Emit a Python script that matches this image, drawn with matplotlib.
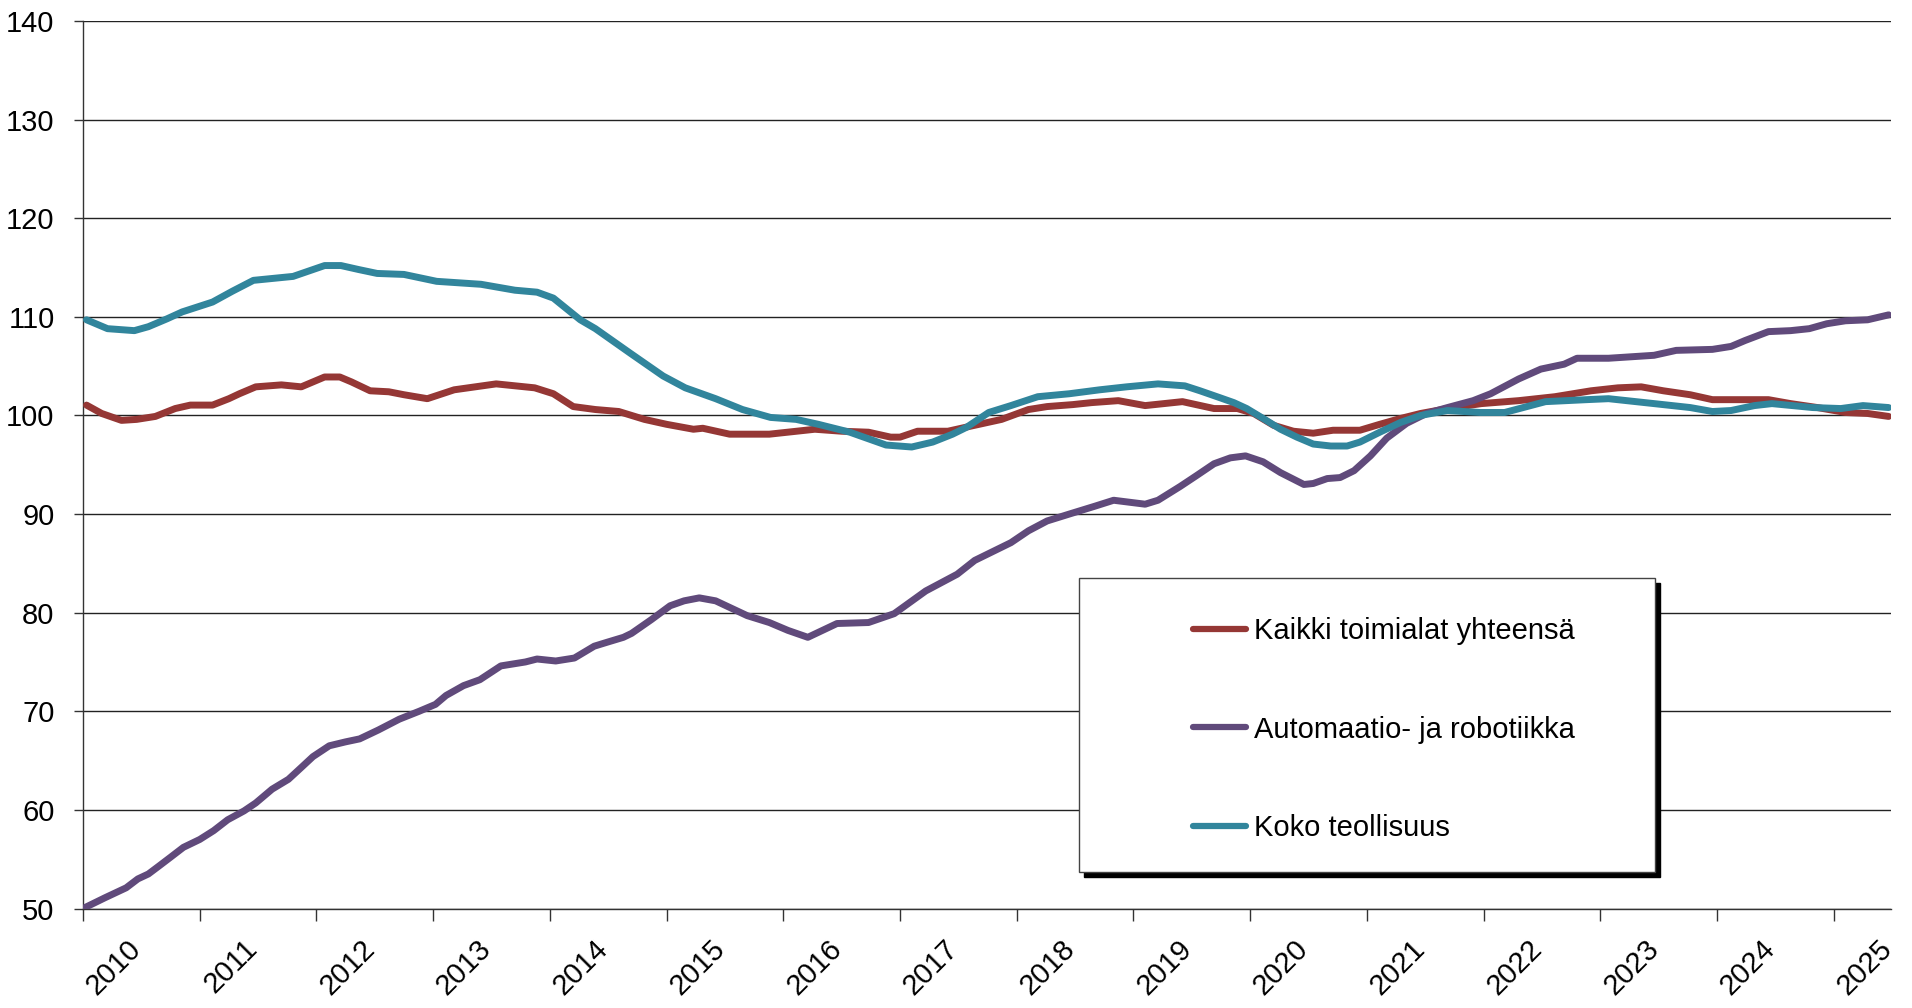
import matplotlib
matplotlib.use("Agg")
import matplotlib.pyplot as plt
from matplotlib.patches import Rectangle
from matplotlib.transforms import ScaledTranslation

FONT = ['Liberation Sans Narrow', 'Liberation Sans', 'DejaVu Sans']
plt.rcParams['font.family'] = FONT

# ---- data (decimal year, index value) ----
red_t = [2010.03, 2010.16, 2010.33, 2010.46, 2010.62, 2010.79, 2010.92, 2011.11, 2011.25, 2011.34,
         2011.48, 2011.70, 2011.87, 2012.07, 2012.20, 2012.30, 2012.46, 2012.62, 2012.75, 2012.95,
         2013.18, 2013.54, 2013.87, 2014.03, 2014.20, 2014.39, 2014.59, 2014.81, 2015.00, 2015.23,
         2015.31, 2015.54, 2015.88, 2016.27, 2016.50, 2016.73, 2016.92, 2017.00, 2017.15, 2017.41,
         2017.60, 2017.87, 2018.10, 2018.26, 2018.48, 2018.64, 2018.87, 2019.10, 2019.42, 2019.69,
         2019.89, 2020.03, 2020.20, 2020.37, 2020.54, 2020.71, 2020.94, 2021.11, 2021.29, 2021.46,
         2021.69, 2021.98, 2022.30, 2022.61, 2022.92, 2023.15, 2023.35, 2023.54, 2023.77, 2023.96,
         2024.44, 2024.63, 2024.86, 2025.10, 2025.29, 2025.47]
red_v = [101.05, 100.2, 99.5, 99.6, 99.9, 100.7, 101.05, 101.05, 101.7, 102.2,
         102.9, 103.1, 102.9, 103.9, 103.9, 103.4, 102.5, 102.4, 102.1, 101.7,
         102.6, 103.2, 102.8, 102.2, 100.9, 100.6, 100.4, 99.6, 99.1, 98.6,
         98.7, 98.1, 98.1, 98.6, 98.4, 98.3, 97.8, 97.8, 98.4, 98.4,
         98.9, 99.6, 100.6, 100.9, 101.1, 101.3, 101.5, 101.0, 101.4, 100.7,
         100.7, 100.2, 99.0, 98.4, 98.2, 98.5, 98.5, 99.1, 99.7, 100.2,
         100.7, 101.2, 101.5, 101.9, 102.5, 102.8, 102.9, 102.5, 102.1, 101.6,
         101.6, 101.2, 100.8, 100.3, 100.2, 99.9]

purple_t = [2010.00, 2010.19, 2010.37, 2010.47, 2010.56, 2010.65, 2010.75, 2010.86, 2011.00, 2011.12,
            2011.24, 2011.38, 2011.48, 2011.62, 2011.76, 2011.87, 2011.97, 2012.11, 2012.25, 2012.37,
            2012.53, 2012.71, 2012.88, 2013.02, 2013.11, 2013.26, 2013.40, 2013.58, 2013.79, 2013.89,
            2014.05, 2014.21, 2014.38, 2014.49, 2014.63, 2014.70, 2014.87, 2015.03, 2015.15, 2015.28,
            2015.42, 2015.69, 2015.88, 2016.04, 2016.21, 2016.46, 2016.73, 2016.95, 2017.22, 2017.49,
            2017.64, 2017.95, 2018.10, 2018.26, 2018.45, 2018.67, 2018.83, 2019.10, 2019.21, 2019.40,
            2019.54, 2019.69, 2019.83, 2019.96, 2020.11, 2020.26, 2020.46, 2020.54, 2020.66, 2020.77,
            2020.89, 2021.03, 2021.17, 2021.34, 2021.51, 2021.69, 2021.91, 2022.06, 2022.30, 2022.49,
            2022.69, 2022.80, 2023.07, 2023.46, 2023.65, 2023.96, 2024.12, 2024.24, 2024.44, 2024.63,
            2024.79, 2024.94, 2025.10, 2025.29, 2025.47]
purple_v = [50.0, 51.1, 52.1, 53.0, 53.5, 54.3, 55.2, 56.2, 57.0, 57.9,
            59.0, 59.9, 60.7, 62.1, 63.1, 64.3, 65.4, 66.5, 66.9, 67.2,
            68.1, 69.2, 70.0, 70.7, 71.6, 72.6, 73.2, 74.6, 75.0, 75.3,
            75.1, 75.4, 76.6, 77.0, 77.5, 77.9, 79.3, 80.7, 81.2, 81.5,
            81.2, 79.7, 79.0, 78.2, 77.5, 78.9, 79.0, 79.9, 82.2, 83.9,
            85.3, 87.1, 88.3, 89.3, 90.0, 90.8, 91.4, 91.0, 91.4, 92.8,
            93.9, 95.1, 95.7, 95.9, 95.3, 94.2, 93.0, 93.1, 93.6, 93.7,
            94.4, 95.9, 97.7, 99.2, 100.2, 100.8, 101.5, 102.2, 103.7, 104.7,
            105.2, 105.8, 105.8, 106.1, 106.6, 106.7, 107.0, 107.6, 108.5, 108.6,
            108.8, 109.3, 109.6, 109.7, 110.2]

teal_t = [2010.03, 2010.21, 2010.44, 2010.56, 2010.72, 2010.85, 2011.11, 2011.28, 2011.46, 2011.80,
          2012.07, 2012.21, 2012.36, 2012.52, 2012.75, 2013.03, 2013.41, 2013.70, 2013.89, 2014.03,
          2014.26, 2014.39, 2014.69, 2014.97, 2015.16, 2015.42, 2015.65, 2015.89, 2016.11, 2016.30,
          2016.57, 2016.88, 2017.10, 2017.28, 2017.45, 2017.57, 2017.76, 2017.95, 2018.18, 2018.45,
          2018.71, 2018.94, 2019.21, 2019.44, 2019.57, 2019.74, 2019.86, 2019.97, 2020.11, 2020.26,
          2020.40, 2020.54, 2020.69, 2020.83, 2020.94, 2021.11, 2021.29, 2021.46, 2021.69, 2021.97,
          2022.18, 2022.53, 2022.88, 2023.07, 2023.46, 2023.77, 2023.96, 2024.12, 2024.32, 2024.47,
          2024.82, 2025.06, 2025.25, 2025.47]
teal_v = [109.7, 108.8, 108.6, 109.0, 109.8, 110.5, 111.5, 112.6, 113.7, 114.1,
          115.2, 115.2, 114.8, 114.4, 114.3, 113.6, 113.3, 112.7, 112.5, 111.9,
          109.7, 108.8, 106.3, 104.0, 102.8, 101.7, 100.6, 99.8, 99.6, 99.1,
          98.3, 97.0, 96.8, 97.3, 98.1, 98.8, 100.3, 101.0, 101.9, 102.2,
          102.6, 102.9, 103.2, 103.0, 102.5, 101.8, 101.3, 100.7, 99.7, 98.6,
          97.8, 97.1, 96.9, 96.9, 97.3, 98.3, 99.3, 100.0, 100.5, 100.3,
          100.3, 101.4, 101.6, 101.7, 101.2, 100.8, 100.4, 100.5, 101.0, 101.2,
          100.8, 100.7, 101.0, 100.8]

labels = ["Kaikki toimialat yhteensä", "Automaatio- ja robotiikka", "Koko teollisuus"]
colors = ["#953735", "#604A7B", "#31859C"]
years = list(range(2010, 2026))
yticks = list(range(50, 141, 10))

# ---- figure ----
W, H, DPI = 1912, 1008, 100
fig = plt.figure(figsize=(W / DPI, H / DPI), dpi=DPI)
ax = fig.add_axes([83 / W, 1 - 908.5 / H, (1891 - 83) / W, (908.5 - 21) / H])

lines = []
for t, v, c, lab in zip([red_t, purple_t, teal_t], [red_v, purple_v, teal_v], colors, labels):
    ln, = ax.plot(t, v, color=c, lw=5.0, solid_joinstyle='round', solid_capstyle='round',
                  label=lab, zorder=3)
    lines.append(ln)

ax.set_xlim(2010, 2025.49)
ax.set_ylim(50, 140)
ax.set_yticks(yticks)
ax.set_xticks(years)
ax.set_xticklabels([str(y) for y in years], rotation=45, ha='center', va='top')
ax.yaxis.grid(True, color='#222222', lw=1.0, zorder=1)
ax.set_axisbelow(True)

for s in ['top', 'right']:
    ax.spines[s].set_visible(False)
for s in ['left', 'bottom']:
    ax.spines[s].set_color('#333333')
    ax.spines[s].set_linewidth(1.0)

ax.tick_params(axis='y', length=6.5, width=1.0, color='#333333', pad=14, labelsize=21, labelcolor='black')
ax.tick_params(axis='x', length=8.6, width=1.0, color='#333333', pad=10, labelsize=21, labelcolor='black')
off = ScaledTranslation(31 / DPI, 0, fig.dpi_scale_trans)
for lbl in ax.get_xticklabels():
    lbl.set_transform(lbl.get_transform() + off)

# ---- legend box with shadow ----
bx0, bx1, by0, by1 = 1079, 1655, 578, 872  # image pixel coords
sh = 5
fig.add_artist(Rectangle(((bx0 + sh) / W, 1 - (by1 + sh) / H), (bx1 - bx0) / W, (by1 - by0) / H,
                         transform=fig.transFigure, facecolor='black', edgecolor='black', zorder=5))
fig.add_artist(Rectangle((bx0 / W, 1 - by1 / H), (bx1 - bx0) / W, (by1 - by0) / H,
                         transform=fig.transFigure, facecolor='white', edgecolor='#444444',
                         lw=1.0, zorder=6))

fs = 21
leg = fig.legend(handles=lines, labels=labels, loc='upper left',
                 bbox_to_anchor=(1193 / W, 1 - 617 / H), frameon=False, fontsize=fs,
                 handlelength=1.82, handletextpad=0.27, labelspacing=2.42, borderpad=0,
                 borderaxespad=0)
leg.set_zorder(7)
for h in leg.legend_handles:
    h.set_linewidth(4.5)

fig.savefig("out.png", dpi=DPI)
